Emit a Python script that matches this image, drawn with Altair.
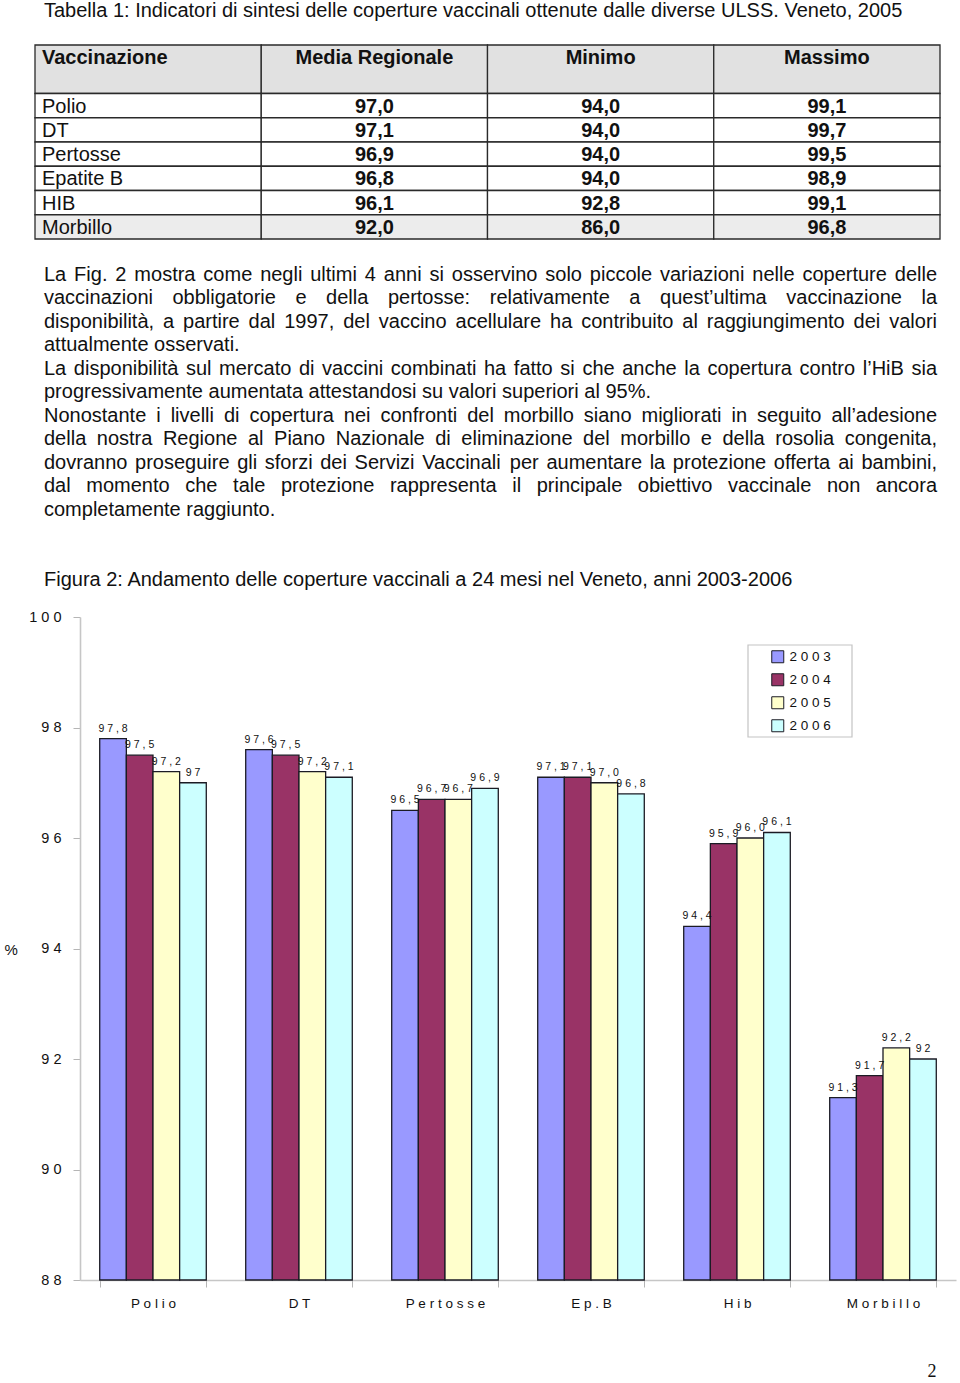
import altair as alt
import pandas as pd

# ---------------- data ----------------
categories = ["Polio", "DT", "Pertosse", "Ep. B", "Hib", "Morbillo"]
years = ["2003", "2004", "2005", "2006"]
v2003 = [97.8, 97.6, 96.5, 97.1, 94.4, 91.3]
v2004 = [97.5, 97.5, 96.7, 97.1, 95.9, 91.7]
v2005 = [97.2, 97.2, 96.7, 97.0, 96.0, 92.2]
v2006 = [97.0, 97.1, 96.9, 96.8, 96.1, 92.0]
l2003 = ["97,8", "97,6", "96,5", "97,1", "94,4", "91,3"]
l2004 = ["97,5", "97,5", "96,7", "97,1", "95,9", "91,7"]
l2005 = ["97,2", "97,2", "96,7", "97,0", "96,0", "92,2"]
l2006 = ["97", "97,1", "96,9", "96,8", "96,1", "92"]
year_colors = ["#9999FF", "#993366", "#FFFFCC", "#CCFFFF"]
y_ticks = [88, 90, 92, 94, 96, 98, 100]

table_title = "Tabella 1: Indicatori di sintesi delle coperture vaccinali ottenute dalle diverse ULSS. Veneto, 2005"
table_header = ["Vaccinazione", "Media Regionale", "Minimo", "Massimo"]
table_names = ["Polio", "DT", "Pertosse", "Epatite B", "HIB", "Morbillo"]
table_media = ["97,0", "97,1", "96,9", "96,8", "96,1", "92,0"]
table_min = ["94,0", "94,0", "94,0", "94,0", "92,8", "86,0"]
table_max = ["99,1", "99,7", "99,5", "98,9", "99,1", "96,8"]

paragraphs = [
    [
        "La Fig. 2 mostra come negli ultimi 4 anni si osservino solo piccole variazioni nelle coperture delle",
        "vaccinazioni obbligatorie e della pertosse: relativamente a quest\u2019ultima vaccinazione la",
        "disponibilità, a partire dal 1997, del vaccino acellulare ha contribuito al raggiungimento dei valori",
        "attualmente osservati.",
    ],
    [
        "La disponibilità sul mercato di vaccini combinati  ha fatto si che anche la copertura contro l\u2019HiB sia",
        "progressivamente aumentata attestandosi su valori superiori al 95%.",
    ],
    [
        "Nonostante i livelli di copertura nei confronti del morbillo siano migliorati in seguito all\u2019adesione",
        "della nostra Regione al Piano Nazionale di eliminazione del morbillo e della rosolia congenita,",
        "dovranno proseguire gli sforzi dei Servizi Vaccinali per aumentare la protezione offerta ai bambini,",
        "dal momento che tale protezione rappresenta il principale obiettivo vaccinale non ancora",
        "completamente raggiunto.",
    ],
]
figure_title = "Figura 2: Andamento delle coperture vaccinali a 24 mesi nel Veneto, anni 2003-2006"
page_number = "2"

FONT = "Liberation Sans"
SPACED = "join(split(datum.label, ''), ' ')"


def spaced(s):
    return " ".join(s)


# ---------------- text layout helpers (Arial / Liberation Sans metrics) ----------------
W = {' ': 278, '%': 889, "'": 191, ',': 278, '-': 333, '.': 278, ':': 278, ';': 278,
     '\u2019': 222, '(': 333, ')': 333}
for d in "0123456789":
    W[d] = 556
W.update(dict(A=667, B=667, C=722, D=722, E=667, F=611, G=778, H=722, I=278, J=500, K=667,
              L=556, M=833, N=722, O=778, P=667, Q=778, R=722, S=667, T=611, U=722, V=667,
              W=944, X=667, Y=667, Z=611))
W.update(dict(a=556, b=556, c=500, d=556, e=556, f=278, g=556, h=556, i=222, j=222, k=500,
              l=222, m=833, n=556, o=556, p=556, q=556, r=333, s=500, t=278, u=556, v=500,
              w=722, x=500, y=500, z=500))
W.update({'à': 556, 'è': 556, 'é': 556, 'ì': 278, 'ò': 556, 'ù': 556})


def tw(s, fs):
    return sum(W.get(ch, 556) for ch in s) * fs / 1000.0


PX0, PX1, PY0, LH, PFS = 44, 937, 275, 23.45, 20
words = []
li = 0
for para in paragraphs:
    for k, line in enumerate(para):
        y = PY0 + li * LH
        last = k == len(para) - 1
        if last:
            words.append({"px": PX0, "py": y, "w": line})
        else:
            ws = line.split()
            total = sum(tw(w, PFS) for w in ws)
            gap = (PX1 - PX0 - total) / (len(ws) - 1)
            x = PX0
            for w in ws:
                words.append({"px": x, "py": y, "w": w})
                x += tw(w, PFS) + gap
        li += 1
words_df = pd.DataFrame(words)

# ---------------- table ----------------
xt = alt.Scale(domain=[0, 4], range=[35, 940], zero=False, nice=False)
yt = alt.Scale(domain=[0, 8], range=[45, 239], zero=False, nice=False)

cells = []
for c in range(4):
    cells.append({"c0": c, "c1": c + 1, "r0": 0, "r1": 2, "fill": "#e1e1e1"})
    for r in range(6):
        cells.append({"c0": c, "c1": c + 1, "r0": 2 + r, "r1": 3 + r,
                      "fill": "#ececec" if r == 5 else "#ffffff"})
cells_df = pd.DataFrame(cells)

left_bold = pd.DataFrame([{"c": 0, "r": 0.5, "t": table_header[0]}])
left_reg = pd.DataFrame([{"c": 0, "r": 2.5 + i, "t": n} for i, n in enumerate(table_names)])
center_rows = [{"c": c + 0.5, "r": 0.5, "t": table_header[c]} for c in range(1, 4)]
for i in range(6):
    for c, col in zip(range(1, 4), [table_media, table_min, table_max]):
        center_rows.append({"c": c + 0.5, "r": 2.5 + i, "t": col[i]})
center_bold = pd.DataFrame(center_rows)

table_rect = alt.Chart(cells_df).mark_rect(stroke="#2a2a2a", strokeWidth=1.3).encode(
    x=alt.X("c0:Q", scale=xt, axis=None), x2="c1:Q",
    y=alt.Y("r0:Q", scale=yt, axis=None), y2="r1:Q",
    fill=alt.Fill("fill:N", scale=None, legend=None),
)
t_left_bold = alt.Chart(left_bold).mark_text(
    align="left", baseline="middle", dx=7, dy=1, font=FONT, fontSize=20, fontWeight="bold", color="#111"
).encode(x=alt.X("c:Q", scale=xt, axis=None), y=alt.Y("r:Q", scale=yt, axis=None), text="t:N")
t_left_reg = alt.Chart(left_reg).mark_text(
    align="left", baseline="middle", dx=7, dy=1, font=FONT, fontSize=20, color="#111"
).encode(x=alt.X("c:Q", scale=xt, axis=None), y=alt.Y("r:Q", scale=yt, axis=None), text="t:N")
t_center = alt.Chart(center_bold).mark_text(
    align="center", baseline="middle", dy=1, font=FONT, fontSize=20, fontWeight="bold", color="#111"
).encode(x=alt.X("c:Q", scale=xt, axis=None), y=alt.Y("r:Q", scale=yt, axis=None), text="t:N")

# ---------------- free text ----------------
titles_df = pd.DataFrame([
    {"px": 44, "py": 11, "t": table_title},
    {"px": 44, "py": 580, "t": figure_title},
])
titles = alt.Chart(titles_df).mark_text(
    align="left", baseline="middle", font=FONT, fontSize=20, color="#111"
).encode(x=alt.X("px:Q", scale=None, axis=None), y=alt.Y("py:Q", scale=None, axis=None), text="t:N")

para = alt.Chart(words_df).mark_text(
    align="left", baseline="middle", font=FONT, fontSize=PFS, color="#111"
).encode(x=alt.X("px:Q", scale=None, axis=None), y=alt.Y("py:Q", scale=None, axis=None), text="w:N")

page_df = pd.DataFrame([{"px": 932, "py": 1372, "t": page_number}])
page = alt.Chart(page_df).mark_text(
    align="center", baseline="middle", font="Liberation Serif", fontSize=18, color="#111"
).encode(x=alt.X("px:Q", scale=None, axis=None), y=alt.Y("py:Q", scale=None, axis=None), text="t:N")

legend_box = alt.Chart(pd.DataFrame([{"k": 1}])).mark_rect(
    fill="white", fillOpacity=0, stroke="#c4c4c4", strokeWidth=1.2
).encode(x=alt.value(748), x2=alt.value(852), y=alt.value(645), y2=alt.value(737))

# ---------------- bar chart ----------------
rows = []
for yr, vals, labs in zip(years, [v2003, v2004, v2005, v2006], [l2003, l2004, l2005, l2006]):
    for c, v, l in zip(categories, vals, labs):
        rows.append({"cat": c, "year": yr, "value": v, "lab": spaced(l)})
bars_df = pd.DataFrame(rows)

xsc = alt.Scale(domain=categories, range=[80, 956], paddingInner=0.27, paddingOuter=0.135)
ysc = alt.Scale(domain=[88, 100], range=[1280, 617], zero=False, nice=False)
xoff = alt.XOffset("year:N", sort=years, scale=alt.Scale(domain=years, paddingInner=0, paddingOuter=0))

bars = alt.Chart(bars_df).mark_bar(stroke="#1b1b24", strokeWidth=1.3).encode(
    x=alt.X("cat:N", sort=categories, scale=xsc,
            axis=alt.Axis(title=None, offset=-103, tickBand="extent", tickSize=7,
                          tickColor="#b5b5b5", domainColor="#c6c6c6", domainWidth=1.4,
                          labelAngle=0, labelPadding=9, labelFontSize=13.5, labelColor="#111",
                          labelFont=FONT, labelExpr=SPACED, grid=False)),
    xOffset=xoff,
    y=alt.Y("value:Q", scale=ysc,
            axis=alt.Axis(values=y_ticks, format="d", offset=-80, grid=False, tickSize=7,
                          tickColor="#b5b5b5", domainColor="#c6c6c6", domainWidth=1.6,
                          labelFontSize=14.5, labelPadding=12, labelColor="#111", labelFont=FONT,
                          labelExpr=SPACED, title="%", titleAngle=0, titleX=-76, titleY=949,
                          titleAlign="left", titleBaseline="middle", titleFontSize=15,
                          titleFontWeight="normal", titleFont=FONT, titleColor="#111")),
    y2=alt.datum(88),
    color=alt.Color("year:N", sort=years, scale=alt.Scale(domain=years, range=year_colors),
                    legend=alt.Legend(orient="none", legendX=771, legendY=650, title=None,
                                      symbolType="square", symbolSize=144,
                                      symbolStrokeColor="#1b1b24", symbolStrokeWidth=1,
                                      labelFontSize=13.5, labelFont=FONT, labelColor="#111",
                                      labelOffset=5, rowPadding=6, padding=0,
                                      labelExpr=SPACED)),
)
bar_labels = alt.Chart(bars_df).mark_text(
    baseline="bottom", dy=-5, font=FONT, fontSize=10.5, color="#111"
).encode(
    x=alt.X("cat:N", sort=categories, scale=xsc),
    xOffset=xoff,
    y=alt.Y("value:Q", scale=ysc),
    text="lab:N",
)
bar_chart = alt.layer(bars, bar_labels)

chart = alt.layer(
    titles, table_rect, t_left_bold, t_left_reg, t_center, para, legend_box, bar_chart, page
).resolve_scale(
    x="independent", y="independent", color="independent"
).properties(
    width=960, height=1383, autosize=alt.AutoSizeParams(type="none"), padding=0,
    background="white",
).configure_view(stroke=None)

chart.save("out.html", embed_options={"renderer": "svg", "actions": False})
